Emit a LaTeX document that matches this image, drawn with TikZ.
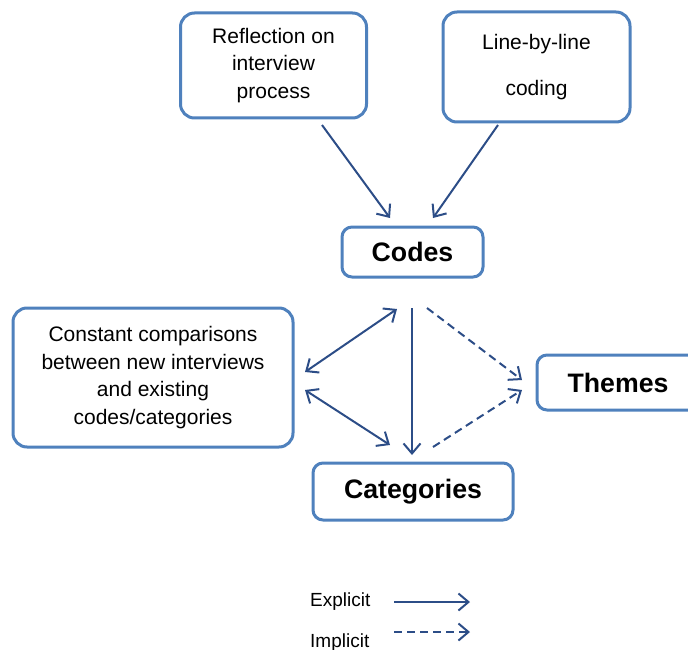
\documentclass[tikz,border=0pt]{standalone}
\usepackage{fontspec}
\setmainfont{Liberation Sans}
\usetikzlibrary{arrows.meta}
\definecolor{boxblue}{RGB}{79,129,189}
\definecolor{arrblue}{RGB}{44,77,135}

\tikzset{
 box/.style={draw=boxblue, line width=3pt, rounded corners=14pt, fill=white,
   align=center, inner sep=0pt, outer sep=0pt,
   font=\fontsize{21}{27.8}\selectfont},
 bigbox/.style={box, rounded corners=10pt, font=\bfseries\fontsize{26.7}{30}\selectfont},
 arr/.style={draw=arrblue, line width=2pt, -{Straight Barb[length=10pt,width=17pt]}},
 twoarr/.style={arr, {Straight Barb[length=10pt,width=17pt]}-{Straight Barb[length=10pt,width=17pt]}},
 dasharr/.style={arr, dash pattern=on 8pt off 5pt},
 legend/.style={anchor=base west, inner sep=0pt, font=\fontsize{19}{22}\selectfont}
}

\begin{document}
\begin{tikzpicture}[x=1pt, y=-1pt]
 \useasboundingbox (0,0) rectangle (688,650);

 % boxes
 \node[box, minimum width=186pt, minimum height=105pt] (refl) at (273.5,65.5)
   {Reflection on\\interview\\process};
 \node[box, minimum width=187pt, minimum height=110pt] (lbl) at (536.5,67)
   {Line-by-line\\[19pt]coding};
 \node[bigbox, minimum width=141pt, minimum height=50pt] (codes) at (412.5,252) {Codes};
 \node[box, minimum width=280pt, minimum height=139pt] (const) at (153,377.5)
   {Constant comparisons\\between new interviews\\and existing\\codes/categories};
 \node[bigbox, minimum width=162pt, minimum height=55pt] (themes) at (618,382.5) {Themes};
 \node[bigbox, minimum width=200pt, minimum height=57pt] (cat) at (413,491.5) {Categories};

 % arrows
 \draw[arr] ([xshift=48.5pt,yshift=-7pt]refl.south) -- ([xshift=-22.5pt,yshift=9pt]codes.north);
 \draw[arr] ([xshift=-38.5pt,yshift=-3pt]lbl.south) -- ([xshift=20.5pt,yshift=9pt]codes.north);
 \draw[arr] ([xshift=-0.5pt,yshift=-31pt]codes.south) -- ([xshift=-1pt,yshift=8pt]cat.north);
 \draw[twoarr] ([xshift=12pt,yshift=5.5pt]const.east) -- ([xshift=-15.5pt,yshift=-32pt]codes.south);
 \draw[twoarr] ([xshift=12pt,yshift=-12.5pt]const.east) -- ([xshift=-23pt,yshift=18pt]cat.north);
 \draw[dasharr] ([xshift=14.5pt,yshift=-31pt]codes.south) -- ([xshift=-15pt,yshift=2.5pt]themes.west);
 \draw[dasharr] ([xshift=20pt,yshift=16pt]cat.north) -- ([xshift=-15pt,yshift=-7.5pt]themes.west);

 % legend
 \node[legend] (expl) at (310,606) {Explicit};
 \node[legend] (impl) at (310,647) {Implicit};
 \coordinate (e1) at (394,602);
 \coordinate (e2) at (470,602);
 \coordinate (i1) at (394,632);
 \coordinate (i2) at (470,632);
 \draw[arr] (e1) -- (e2);
 \draw[dasharr] (i1) -- (i2);
\end{tikzpicture}
\end{document}
